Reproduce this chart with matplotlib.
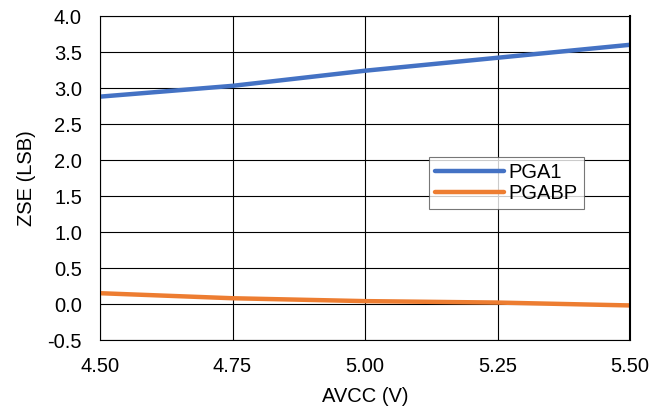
import numpy as np
import matplotlib.pyplot as plt

plt.rcParams['font.family'] = ['Liberation Sans', 'DejaVu Sans']

avcc = [4.50, 4.75, 5.00, 5.25, 5.50]
pga1 = [2.88, 3.03, 3.24, 3.42, 3.60]
pgabp = [0.15, 0.08, 0.04, 0.02, -0.02]

fig = plt.figure(figsize=(6.68, 4.12), dpi=100)
ax = fig.add_axes([100 / 668, 72 / 412, 530 / 668, 324 / 412])

ax.plot(avcc, pga1, color='#4472C4', lw=3.2, label='PGA1', solid_capstyle='round')
ax.plot(avcc, pgabp, color='#ED7D31', lw=3.2, label='PGABP', solid_capstyle='round')

ax.set_xlim(4.5, 5.5)
ax.set_ylim(-0.5, 4.0)
ax.set_xticks(np.arange(4.5, 5.51, 0.25))
ax.set_yticks(np.arange(-0.5, 4.01, 0.5))
ax.xaxis.set_major_formatter(plt.FormatStrFormatter('%.2f'))
ax.yaxis.set_major_formatter(plt.FormatStrFormatter('%.1f'))
ax.tick_params(length=0, labelsize=14.5)
ax.tick_params(axis='x', pad=12)
ax.tick_params(axis='y', pad=13)
ax.grid(True, color='black', lw=0.8)
ax.set_axisbelow(True)
for s in ax.spines.values():
    s.set_linewidth(0.8)
ax.spines['right'].set_linewidth(1.5)

ax.set_xlabel('AVCC (V)', fontsize=14.5, labelpad=8)
ax.set_ylabel('ZSE (LSB)', fontsize=14.5, labelpad=8)

leg = ax.legend(loc='upper left', bbox_to_anchor=(329 / 530, 1 - 141 / 324),
                fontsize=14.5, frameon=True, fancybox=False, handlelength=3.4,
                handletextpad=0.25, borderpad=0.3, labelspacing=0.1, borderaxespad=0)
leg.get_frame().set_edgecolor('#555555')
leg.get_frame().set_linewidth(0.8)
for h in leg.get_lines():
    h.set_solid_capstyle('round')

fig.savefig('out.png', dpi=100)
